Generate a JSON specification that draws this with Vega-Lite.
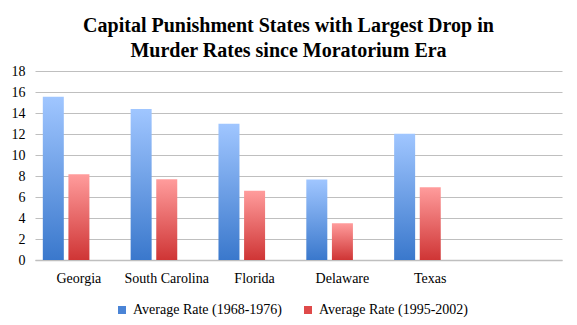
{
  "$schema": "https://vega.github.io/schema/vega-lite/v6.json",
  "width": 527,
  "height": 189,
  "autosize": {"type": "none"},
  "padding": {"left": 35, "top": 71, "right": 15, "bottom": 65},
  "background": "white",
  "title": {
    "text": ["Capital Punishment States with Largest Drop in", "Murder Rates since Moratorium Era"],
    "font": "Liberation Serif",
    "fontSize": 20,
    "fontWeight": "bold",
    "color": "#000000",
    "lineHeight": 25,
    "anchor": "middle",
    "dx": -10,
    "offset": 3
  },
  "data": {
    "values": [
      {"state": "Georgia", "series": "Average Rate (1968-1976)", "rate": 15.55},
      {"state": "Georgia", "series": "Average Rate (1995-2002)", "rate": 8.16},
      {"state": "South Carolina", "series": "Average Rate (1968-1976)", "rate": 14.38},
      {"state": "South Carolina", "series": "Average Rate (1995-2002)", "rate": 7.68},
      {"state": "Florida", "series": "Average Rate (1968-1976)", "rate": 12.97},
      {"state": "Florida", "series": "Average Rate (1995-2002)", "rate": 6.59},
      {"state": "Delaware", "series": "Average Rate (1968-1976)", "rate": 7.67},
      {"state": "Delaware", "series": "Average Rate (1995-2002)", "rate": 3.5},
      {"state": "Texas", "series": "Average Rate (1968-1976)", "rate": 12.02},
      {"state": "Texas", "series": "Average Rate (1995-2002)", "rate": 6.93}
    ]
  },
  "encoding": {
    "x": {
      "field": "state",
      "type": "nominal",
      "sort": null,
      "scale": {"domain": ["Georgia", "South Carolina", "Florida", "Delaware", "Texas", " "], "paddingInner": 0, "paddingOuter": 0},
      "axis": {
        "title": null,
        "labelAngle": 0,
        "labelFont": "Liberation Serif",
        "labelFontSize": 14,
        "labelColor": "#000000",
        "labelPadding": 11,
        "ticks": false,
        "domainColor": "#BFBFBF",
        "domainWidth": 1.5,
        "grid": false
      }
    },
    "xOffset": {
      "field": "series",
      "type": "nominal",
      "scale": {"domain": ["Average Rate (1968-1976)", "Average Rate (1995-2002)", "none"], "paddingInner": 0.21, "paddingOuter": 0.32}
    },
    "y": {
      "field": "rate",
      "type": "quantitative",
      "scale": {"domain": [0, 18]},
      "axis": {
        "title": null,
        "values": [0, 2, 4, 6, 8, 10, 12, 14, 16, 18],
        "labelFont": "Liberation Serif",
        "labelFontSize": 14,
        "labelColor": "#000000",
        "labelPadding": 10,
        "ticks": false,
        "domain": false,
        "gridColor": "#BFBFBF",
        "gridWidth": 1
      }
    }
  },
  "layer": [
    {
      "transform": [{"filter": "datum.series === 'Average Rate (1968-1976)'"}],
      "mark": {
        "type": "bar",
        "width": 21,
        "color": {"gradient": "linear", "x1": 0, "y1": 0, "x2": 0, "y2": 1, "stops": [{"offset": 0, "color": "#A0C6FF"}, {"offset": 1, "color": "#3A78CC"}]}
      }
    },
    {
      "transform": [{"filter": "datum.series === 'Average Rate (1995-2002)'"}],
      "mark": {
        "type": "bar",
        "width": 21,
        "color": {"gradient": "linear", "x1": 0, "y1": 0, "x2": 0, "y2": 1, "stops": [{"offset": 0, "color": "#FF9C9C"}, {"offset": 1, "color": "#CF3535"}]}
      }
    },
    {
      "mark": {"type": "square", "opacity": 0, "size": 1},
      "encoding": {
        "color": {
          "field": "series",
          "type": "nominal",
          "scale": {
            "domain": ["Average Rate (1968-1976)", "Average Rate (1995-2002)"],
            "range": ["#4A84D6", "#DF4A4A"]
          },
          "legend": {
            "title": null,
            "orient": "none",
            "legendX": 80,
            "legendY": 232,
            "direction": "horizontal",
            "symbolType": "square",
            "symbolSize": 64,
            "symbolOpacity": 1,
            "symbolStrokeWidth": 0,
            "labelFont": "Liberation Serif",
            "labelFontSize": 14,
            "labelColor": "#000000",
            "labelOffset": 4,
            "columnPadding": 18
          }
        }
      }
    }
  ],
  "config": {
    "view": {"stroke": null}
  }
}
